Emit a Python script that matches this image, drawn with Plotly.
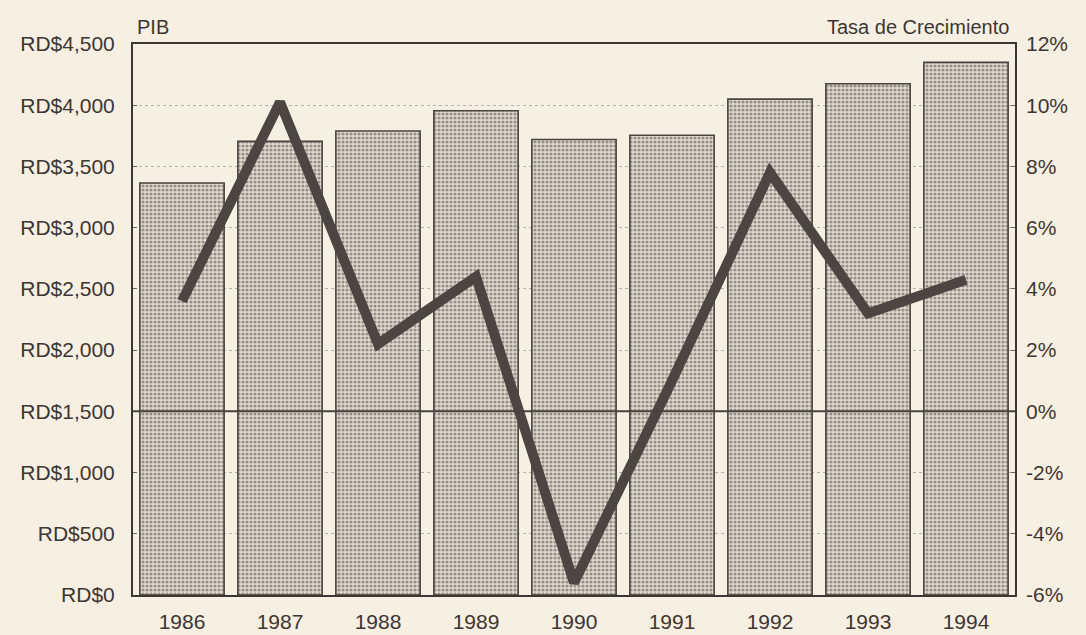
import plotly.graph_objects as go

# ---- data ----
years = ["1986", "1987", "1988", "1989", "1990", "1991", "1992", "1993", "1994"]
pib = [3365, 3705, 3790, 3955, 3720, 3755, 4050, 4175, 4350]          # RD$ (millions)
crecimiento = [3.6, 10.1, 2.2, 4.4, -5.6, 1.0, 7.8, 3.2, 4.3]          # % growth

pib_ticks = [0, 500, 1000, 1500, 2000, 2500, 3000, 3500, 4000, 4500]
pib_labels = ["RD$0", "RD$500", "RD$1,000", "RD$1,500", "RD$2,000",
              "RD$2,500", "RD$3,000", "RD$3,500", "RD$4,000", "RD$4,500"]
pct_ticks = [-6, -4, -2, 0, 2, 4, 6, 8, 10, 12]
pct_labels = [f"{t}%" for t in pct_ticks]

BG = "#f8efe3"
INK = "#3d3632"
FONT = "Liberation Sans, Arial, sans-serif"

fig = go.Figure()

fig.add_trace(go.Bar(
    x=years, y=pib, name="PIB",
    marker=dict(
        color="#d9d0c6",
        line=dict(color="#4a423d", width=1.6),
        pattern=dict(shape=".", fgcolor="#4e4641", bgcolor="#e2d9cf", size=4, solidity=0.5),
    ),
    yaxis="y",
))

fig.add_trace(go.Scatter(
    x=years, y=crecimiento, name="Tasa de Crecimiento",
    mode="lines", line=dict(color="#4d4541", width=10),
    yaxis="y2",
))

# 0% reference line
fig.add_shape(type="line", xref="paper", x0=0, x1=1, yref="y2", y0=0, y1=0,
              line=dict(color="#4a423d", width=2))

fig.update_layout(
    width=1086, height=635,
    paper_bgcolor=BG, plot_bgcolor=BG,
    margin=dict(l=133, r=71, t=44, b=40),
    showlegend=False,
    bargap=0.14,
    font=dict(family=FONT, size=21, color=INK),
    xaxis=dict(
        showline=True, mirror=True, linecolor="#3d3632", linewidth=2,
        ticks="", showgrid=False, tickfont=dict(size=21), ticklabelstandoff=7,
        automargin=False,
    ),
    yaxis=dict(
        range=[0, 4500], tickvals=pib_ticks, ticktext=pib_labels,
        showline=True, mirror=True, linecolor="#3d3632", linewidth=2,
        ticks="inside", ticklen=4, tickcolor="#6a625c",
        showgrid=True, gridcolor="#b8b0a8", griddash="dot", gridwidth=1,
        zeroline=False, tickfont=dict(size=21), ticklabelstandoff=12,
        automargin=False,
    ),
    yaxis2=dict(
        range=[-6, 12], tickvals=pct_ticks, ticktext=pct_labels,
        overlaying="y", side="right", showgrid=False, zeroline=False,
        ticks="inside", ticklen=4, tickcolor="#6a625c",
        tickfont=dict(size=21), ticklabelstandoff=10, automargin=False,
    ),
    annotations=[
        dict(text="PIB", xref="paper", yref="paper", x=0, y=1, xanchor="left",
             yanchor="bottom", xshift=2, yshift=4, showarrow=False, font=dict(size=20)),
        dict(text="Tasa de Crecimiento", xref="paper", yref="paper", x=0.995, y=1,
             xanchor="right", yanchor="bottom", yshift=4, showarrow=False, font=dict(size=20)),
    ],
)

fig.write_html(
    "out.html",
    config={"displayModeBar": False},
    post_script="document.body.style.margin='0';document.body.style.overflow='hidden';"
                "document.body.style.background='" + BG + "';",
)
